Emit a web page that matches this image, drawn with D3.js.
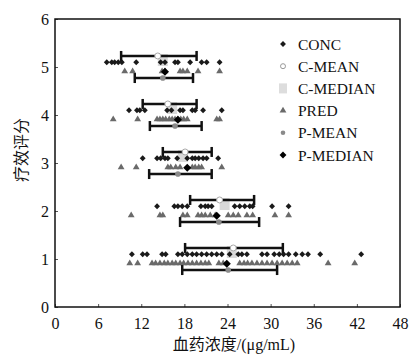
<!DOCTYPE html>
<html><head><meta charset="utf-8">
<script src="https://cdn.jsdelivr.net/npm/d3@7"></script>
<style>body{margin:0;background:#fff}svg{display:block}text{font-family:"Liberation Serif","Noto Sans CJK SC",serif}</style>
</head><body><svg id="c" width="411" height="354"></svg>
<script>
const levels = [5, 4, 3, 2, 1];
const concValues = [
  [7.2, 7.9, 8.3, 8.8, 9.3, 11.3, 14.7, 15.3, 16.7, 17.1, 18.8, 20.4, 21.1, 22.9],
  [10.3, 11.4, 11.8, 12.5, 15.6, 16.2, 17.4, 17.8, 19.1, 19.5, 20.6, 23.2],
  [12.2, 14.2, 14.7, 15.3, 15.7, 17.0, 18.4, 19.1, 19.5, 20.0, 20.6, 21.1, 22.7],
  [14.2, 16.6, 17.1, 17.7, 18.4, 20.3, 20.9, 21.3, 21.8, 25.0, 25.7, 26.4, 27.1, 27.5, 30.2, 32.5],
  [10.7, 12.2, 12.8, 14.9, 15.4, 17.1, 17.7, 18.4, 19.1, 19.7, 20.4, 21.1, 21.8, 22.5, 23.2, 24.3, 25.5, 26.0, 26.7, 28.8, 29.5, 30.5, 31.2, 31.8, 32.5, 33.5, 34.4, 35.2, 36.9, 42.6]
];
const predValues = [
  [9.7, 10.8, 14.9, 15.3, 17.4, 17.8, 18.4, 19.9, 22.9],
  [8.1, 11.5, 14.2, 14.6, 15.0, 15.4, 15.9, 16.3, 16.7, 17.1, 17.5, 17.9, 18.4, 22.5, 22.9],
  [9.2, 11.3, 15.7, 16.1, 16.8, 17.4, 19.1, 19.5, 20.0, 20.4, 23.2],
  [10.6, 14.6, 15.0, 17.8, 18.4, 19.9, 20.4, 20.9, 21.6, 22.3, 24.1, 24.8, 25.5, 26.7, 27.5, 30.6, 32.5],
  [10.4, 11.5, 13.5, 14.0, 14.6, 15.2, 15.7, 16.3, 16.8, 17.4, 17.9, 18.5, 19.1, 19.7, 20.3, 20.9, 21.4, 22.8, 23.4, 25.7, 26.3, 26.8, 27.4, 28.1, 28.8, 29.5, 30.2, 30.9, 31.6, 32.3, 33.0, 33.7, 38.0, 41.7]
];
const cMean   = [14.3, 15.7, 18.1, 22.9, 24.8];
const cMedian = [15.0, 16.3, 17.8, 23.6, 24.6];
const cLow    = [9.2, 12.2, 15.0, 18.8, 18.1];
const cHigh   = [19.7, 19.7, 21.8, 27.7, 31.7];
const pMean   = [15.0, 16.7, 17.1, 22.8, 24.1];
const pMedian = [15.3, 17.1, 18.4, 22.5, 23.9];
const pLow    = [11.1, 13.2, 13.1, 17.4, 17.7];
const pHigh   = [19.2, 20.4, 21.8, 28.4, 30.9];
const xTicks = [0, 6, 12, 18, 24, 30, 36, 42, 48];
const yTicks = [0, 1, 2, 3, 4, 5, 6];
const legendLabels = ["CONC", "C-MEAN", "C-MEDIAN", "PRED", "P-MEAN", "P-MEDIAN"];
const xTitle = "血药浓度/(μg/mL)";
const yTitle = "疗效评分";

const svg = d3.select("#c");
const L = 55, R = 400, T = 19, B = 307;
const x = d3.scaleLinear().domain([0, 48]).range([L, R]);
const y = d3.scaleLinear().domain([0, 6]).range([B, T]);

const g = svg.append("g");
const dCONC = d3.symbol().type(d3.symbolDiamond2).size(22);
const dPRED = d3.symbol().type(d3.symbolTriangle).size(20);
const dPMED = d3.symbol().type(d3.symbolDiamond2).size(42);

const offC = 0.1, offP = -0.1, offCB = 0.23, offPB = -0.23;

// C-MEDIAN blobs (behind)
levels.forEach((lv, i) => {
  g.append("rect").attr("x", x(cMedian[i]) - 5).attr("y", y(lv + 0.27)).attr("width", 10)
    .attr("height", y(lv + 0.02) - y(lv + 0.27)).attr("fill", "#d9d9d9");
});

levels.forEach((lv, i) => {
  g.selectAll(null).data(concValues[i]).enter().append("path")
    .attr("d", dCONC).attr("transform", d => `translate(${x(d)},${y(lv + offC)})`).attr("fill", "#1a1a1a");
  g.selectAll(null).data(predValues[i]).enter().append("path")
    .attr("d", dPRED).attr("transform", d => `translate(${x(d)},${y(lv + offP) - 0.5})`).attr("fill", "#6a6a6a");
});

function bar(lo, hi, yy) {
  g.append("line").attr("x1", x(lo)).attr("x2", x(hi)).attr("y1", yy).attr("y2", yy).attr("stroke", "#111").attr("stroke-width", 2.5);
  [lo, hi].forEach(v => g.append("line").attr("x1", x(v)).attr("x2", x(v)).attr("y1", yy - 5).attr("y2", yy + 5).attr("stroke", "#111").attr("stroke-width", 2.5));
}
levels.forEach((lv, i) => {
  bar(cLow[i], cHigh[i], y(lv + offCB));
  bar(pLow[i], pHigh[i], y(lv + offPB));
  g.append("circle").attr("cx", x(cMean[i])).attr("cy", y(lv + offCB)).attr("r", 3).attr("fill", "#fff").attr("stroke", "#aaa").attr("stroke-width", 1);
  g.append("circle").attr("cx", x(pMean[i])).attr("cy", y(lv + offPB)).attr("r", 2.8).attr("fill", "#8a8a8a");
  g.append("path").attr("d", dPMED).attr("transform", `translate(${x(pMedian[i])},${y(lv + offP)})`).attr("fill", "#000");
});

const ax = svg.append("g").attr("transform", `translate(0,${B})`)
  .call(d3.axisBottom(x).tickValues(xTicks).tickSize(-3).tickPadding(8).tickFormat(d3.format("d")));
const ay = svg.append("g").attr("transform", `translate(${L},0)`)
  .call(d3.axisLeft(y).tickValues(yTicks).tickSize(-3).tickPadding(6).tickFormat(d3.format("d")));
[ax, ay].forEach(a => {
  a.select(".domain").remove();
  a.selectAll(".tick line").attr("stroke", "#555");
  a.selectAll("text").attr("font-size", 16).attr("fill", "#111").attr("font-family", "Liberation Serif");
});
ax.selectAll("text").attr("dy", "0.85em");
svg.append("rect").attr("x", L).attr("y", T).attr("width", R - L).attr("height", B - T)
  .attr("fill", "none").attr("stroke", "#111").attr("stroke-width", 1.5);

svg.append("text").attr("x", 234).attr("y", 350).attr("text-anchor", "middle").attr("font-size", 16).attr("fill", "#111").text(xTitle);
svg.append("text").attr("transform", "translate(27,150) rotate(-90)").attr("text-anchor", "middle").attr("font-size", 16).attr("fill", "#111").text(yTitle);

const lg = svg.append("g");
legendLabels.forEach((lab, i) => {
  const yy = 44 + i * 22.2;
  const mx = 283;
  if (i === 0) lg.append("path").attr("d", dCONC).attr("transform", `translate(${mx},${yy})`).attr("fill", "#1a1a1a");
  if (i === 1) lg.append("circle").attr("cx", mx).attr("cy", yy).attr("r", 2.5).attr("fill", "#fff").attr("stroke", "#999");
  if (i === 2) lg.append("rect").attr("x", mx - 4).attr("y", yy - 5).attr("width", 8).attr("height", 10).attr("fill", "#ddd");
  if (i === 3) lg.append("path").attr("d", dPRED).attr("transform", `translate(${mx},${yy})`).attr("fill", "#6a6a6a");
  if (i === 4) lg.append("circle").attr("cx", mx).attr("cy", yy).attr("r", 2.3).attr("fill", "#8a8a8a");
  if (i === 5) lg.append("path").attr("d", d3.symbol().type(d3.symbolDiamond2).size(30)).attr("transform", `translate(${mx},${yy})`).attr("fill", "#000");
  lg.append("text").attr("x", 298).attr("y", yy + 5.5).attr("font-size", 15.5).attr("fill", "#111").text(lab);
});
</script></body></html>
